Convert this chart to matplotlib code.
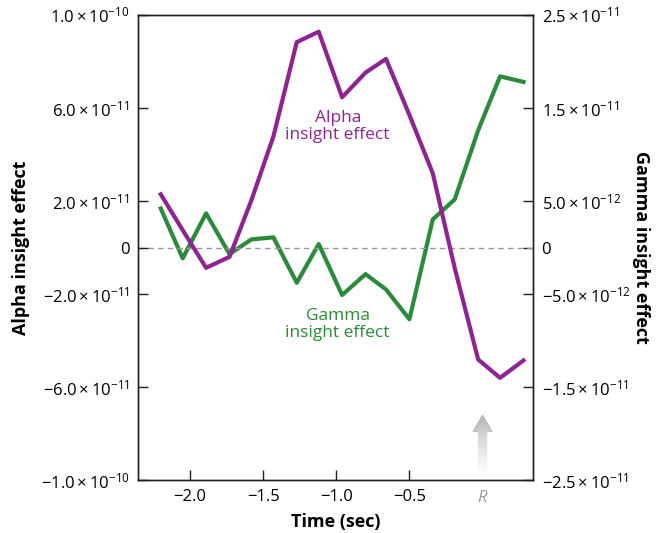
import numpy as np
import matplotlib
matplotlib.use('Agg')
from matplotlib import pyplot as plt
from matplotlib.patches import Polygon

plt.rcParams['font.family'] = ['Open Sans', 'DejaVu Sans']
plt.rcParams['mathtext.fontset'] = 'custom'
plt.rcParams['mathtext.rm'] = 'Open Sans'
plt.rcParams['mathtext.it'] = 'Open Sans:italic'

# time axis (sec), R = response at 0
time = [-2.2, -2.05, -1.89, -1.73, -1.58, -1.43, -1.27, -1.12, -0.96,
        -0.80, -0.66, -0.50, -0.34, -0.19, -0.03, 0.12, 0.28]

# alpha insight effect (left axis)
alpha = [2.29e-11, 7.5e-12, -8.7e-12, -4.0e-12, 2.04e-11, 4.77e-11, 8.83e-11,
         9.28e-11, 6.46e-11, 7.52e-11, 8.11e-11, 5.7e-11, 3.19e-11, -8.8e-12,
         -4.81e-11, -5.6e-11, -4.85e-11]

# gamma insight effect (right axis)
gamma = [4.2e-12, -1.16e-12, 3.68e-12, -0.7e-12, 0.88e-12, 1.1e-12, -3.78e-12,
         0.38e-12, -5.1e-12, -2.85e-12, -4.5e-12, -7.7e-12, 3.03e-12, 5.18e-12,
         1.26e-11, 1.84e-11, 1.78e-11]

left_ticks = [1e-10, 6e-11, 2e-11, 0, -2e-11, -6e-11, -1e-10]
left_labels = [r'$1.0\times10^{-10}$', r'$6.0\times10^{-11}$', r'$2.0\times10^{-11}$', '0',
               r'$-2.0\times10^{-11}$', r'$-6.0\times10^{-11}$', r'$-1.0\times10^{-10}$']
right_ticks = [2.5e-11, 1.5e-11, 5e-12, 0, -5e-12, -1.5e-11, -2.5e-11]
right_labels = [r'$2.5\times10^{-11}$', r'$1.5\times10^{-11}$', r'$5.0\times10^{-12}$', '0',
                r'$-5.0\times10^{-12}$', r'$-1.5\times10^{-11}$', r'$-2.5\times10^{-11}$']
x_ticks = [-2.0, -1.5, -1.0, -0.5]
x_labels = ['\u22122.0', '\u22121.5', '\u22121.0', '\u22120.5']

purple = '#8e2491'
green = '#2a8b3a'

fig = plt.figure(figsize=(6.6, 5.33), dpi=100)
ax = fig.add_axes([0.209, 0.099, 0.599, 0.873])
ax2 = ax.twinx()

ax.axhline(0, color='#999999', lw=1, ls=(0, (4, 3)), zorder=1)
ax.plot(time, alpha, color=purple, lw=3, zorder=3)
ax2.plot(time, gamma, color=green, lw=3, zorder=3)
ax.set_zorder(ax2.get_zorder() + 1)
ax.patch.set_visible(False)

ax.set_xlim(-2.356, 0.347)
ax.set_ylim(-1e-10, 1e-10)
ax2.set_ylim(-2.5e-11, 2.5e-11)

ax.set_xticks(x_ticks)
ax.set_xticklabels(x_labels, fontsize=12)
ax.set_yticks(left_ticks)
ax.set_yticklabels(left_labels, fontsize=12)
ax2.set_yticks(right_ticks)
ax2.set_yticklabels(right_labels, fontsize=12)
for a in (ax, ax2):
    a.tick_params(direction='in', length=7, width=1, color='#222222', pad=6)
    for s in a.spines.values():
        s.set_color('#222222')
        s.set_linewidth(1)

ax.set_xlabel('Time (sec)', fontsize=13, fontweight='bold', labelpad=6)
ax.set_ylabel('Alpha insight effect', fontsize=13, fontweight='bold', labelpad=8)
ax2.set_ylabel('Gamma insight effect', fontsize=13, fontweight='bold',
               rotation=270, labelpad=14)

# curve labels
ax.text(-0.99, 5.2e-11, 'Alpha\ninsight effect', color=purple, fontsize=12.5,
        ha='center', va='center', linespacing=1.05)
ax.text(-0.99, -3.3e-11, 'Gamma\ninsight effect', color=green, fontsize=12.5,
        ha='center', va='center', linespacing=1.05)

# R marker and arrow with fading gradient
ax.text(0.0, -0.022, 'R', transform=ax.get_xaxis_transform(), color='#999999',
        fontsize=12, style='italic', ha='center', va='top')
tip, base = -7.2e-11, -9.6e-11
hw, sw, hh = 0.065, 0.032, 0.7e-11
arrow = [(-sw, base), (-sw, tip - hh), (-hw, tip - hh), (0, tip), (hw, tip - hh),
         (sw, tip - hh), (sw, base)]
poly = Polygon(arrow, closed=True, facecolor='none', edgecolor='none')
ax.add_patch(poly)
grad = np.linspace(1, 0, 100).reshape(-1, 1)
im = ax.imshow(grad, cmap='Greys', vmin=-0.1, vmax=2.6, aspect='auto',
               extent=[-hw, hw, base, tip], origin='upper', zorder=2)
im.set_clip_path(poly)
ax.add_patch(Polygon(arrow[1:-1], closed=False, facecolor='none',
                     edgecolor='#b0b0b0', lw=0.6, zorder=2))

fig.savefig('out.png', dpi=100)
